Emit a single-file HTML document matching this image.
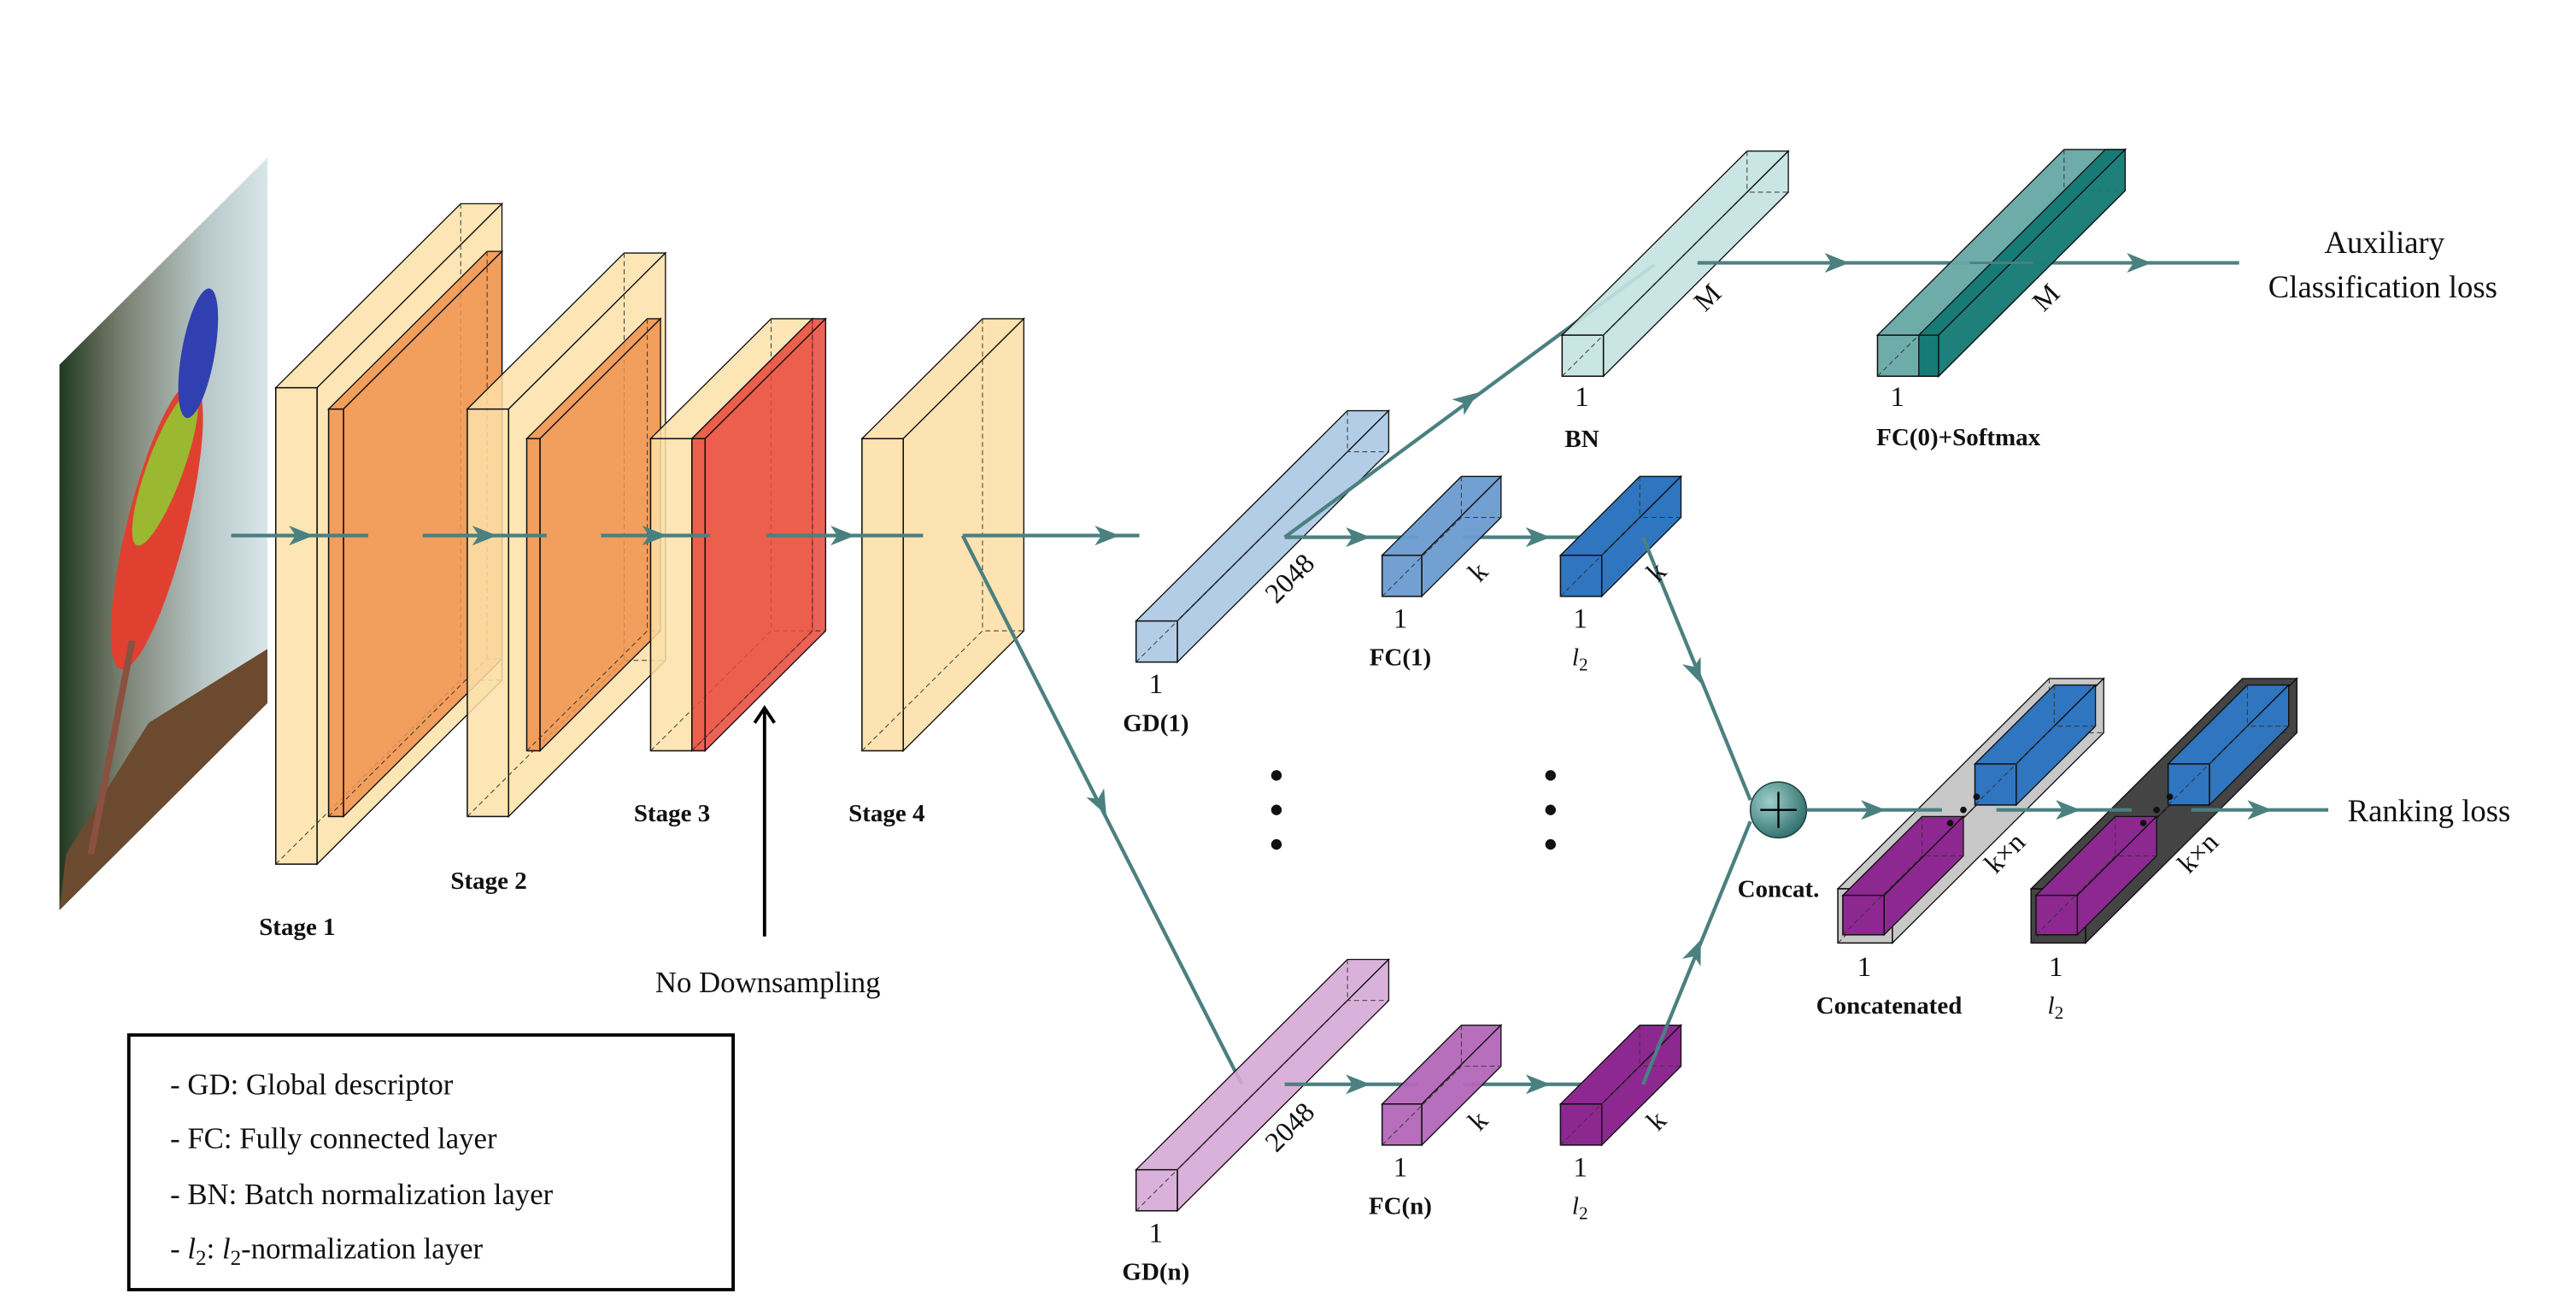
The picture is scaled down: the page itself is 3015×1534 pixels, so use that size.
<!DOCTYPE html>
<html><head><meta charset="utf-8">
<style>
html,body{margin:0;padding:0;background:#fff;}
svg{display:block;}
text{font-family:"Liberation Serif","DejaVu Serif",serif;fill:#111;}
.b{font-weight:bold;}
</style></head>
<body>
<svg id="s" xmlns="http://www.w3.org/2000/svg" width="3015" height="1534" viewBox="0 0 1560 798" preserveAspectRatio="none" font-family="Liberation Serif, serif">
<defs>
<linearGradient id="bg" x1="0" y1="0" x2="1" y2="0">
<stop offset="0" stop-color="#203820"/><stop offset="0.3" stop-color="#7a8070"/><stop offset="0.7" stop-color="#b8c8c8"/><stop offset="1" stop-color="#d8e6ea"/>
</linearGradient>
<radialGradient id="pl" cx="0.35" cy="0.35" r="0.7"><stop offset="0" stop-color="#9fd0cc"/><stop offset="1" stop-color="#2f6f6c"/></radialGradient>
<clipPath id="bc"><polygon points="36,222 162,96 162,428 36,554"/></clipPath>
</defs>
<g id="g"></g>
</svg>
<script>
const g=document.getElementById('g');const NS='http://www.w3.org/2000/svg';
function el(t,a,txt){const e=document.createElementNS(NS,t);for(const k in a)e.setAttribute(k,a[k]);if(txt!==undefined)e.textContent=txt;g.appendChild(e);return e;}
const T='#4b8080';
el('polygon',{points:'36,222 162,96 162,428 36,554',fill:'url(#bg)'});
const bg=document.createElementNS(NS,'g');bg.setAttribute('clip-path','url(#bc)');g.appendChild(bg);
function be(t,a){const e=document.createElementNS(NS,t);for(const k in a)e.setAttribute(k,a[k]);bg.appendChild(e);}
be('polygon',{points:'90,440 162,395 162,428 36,554 40,520',fill:'#6b4a30'});
be('ellipse',{cx:95,cy:320,rx:18,ry:90,fill:'#e04030',transform:'rotate(14 95 320)'});
be('ellipse',{cx:100,cy:285,rx:11,ry:50,fill:'#9ab830',transform:'rotate(20 100 285)'});
be('ellipse',{cx:120,cy:215,rx:10,ry:40,fill:'#3040b0',transform:'rotate(10 120 215)'});
be('line',{x1:80,y1:390,x2:55,y2:520,stroke:'#8a5040','stroke-width':4});
function cub(x,y,w,h,d,fill,op,stroke){
  stroke=stroke||'#111';
  const gg=document.createElementNS(NS,'g');gg.setAttribute('fill-opacity',op);g.appendChild(gg);
  function p(pts){const e=document.createElementNS(NS,'polygon');e.setAttribute('points',pts);e.setAttribute('fill',fill);e.setAttribute('stroke',stroke);e.setAttribute('stroke-width','0.7');gg.appendChild(e);}
  p(`${x},${y} ${x+d},${y-d} ${x+w+d},${y-d} ${x+w},${y}`);
  p(`${x+w},${y} ${x+w+d},${y-d} ${x+w+d},${y+h-d} ${x+w},${y+h}`);
  const da={stroke:'#333','stroke-width':0.5,'stroke-dasharray':'3,2',fill:'none'};
  el('polyline',Object.assign({points:`${x},${y+h} ${x+d},${y+h-d} ${x+w+d},${y+h-d}`},da));
  el('line',Object.assign({x1:x+d,y1:y-d,x2:x+d,y2:y+h-d},da));
  const r=document.createElementNS(NS,'rect');r.setAttribute('x',x);r.setAttribute('y',y);r.setAttribute('width',w);r.setAttribute('height',h);r.setAttribute('fill',fill);r.setAttribute('stroke',stroke);r.setAttribute('stroke-width',0.8);gg.appendChild(r);
}
function arrow(x,y,ang){const a=ang*Math.PI/180;const c=Math.cos(a),s=Math.sin(a);
  const pt=(u,v)=>`${x+u*c-v*s},${y+u*s+v*c}`;
  el('polygon',{points:[pt(0,0),pt(-15,-6),pt(-11,0),pt(-15,6)].join(' '),fill:T});}
function line(x1,y1,x2,y2,w){el('line',{x1,y1,x2,y2,stroke:T,'stroke-width':w||2.2});}
const OU='#fde0a8';
cub(167,236,25,290,112,OU,0.85);
cub(199,249,9,248,96,'#f0924e',0.85);
cub(283,249,25,248,95,OU,0.85);
cub(319,267,8,190,73,'#f0924e',0.85);
cub(394,267,25,190,73,OU,0.85);
cub(419,267,8,190,73,'#e8483a',0.85);
cub(522,267,25,190,73,OU,0.9);
[[140,223],[256,331],[364,430],[464,559],[583,690]].forEach(s=>line(s[0],326,s[1],326));
[190,301,404,518,678].forEach(x=>arrow(x,326,0));
line(583,326,752,660);
arrow(670,496,Math.atan2(334,169)*180/Math.PI);
el('line',{x1:463,y1:432,x2:463,y2:570,stroke:'#000','stroke-width':2});
el('polyline',{points:'457,440 463,431 469,440',fill:'none',stroke:'#000','stroke-width':2});
el('text',{x:465,y:604,'font-size':18,'text-anchor':'middle'},'No Downsampling');
[['Stage 1',180,569],['Stage 2',296,541],['Stage 3',407,500],['Stage 4',537,500]].forEach(t=>el('text',{x:t[1],y:t[2],'font-size':15,'text-anchor':'middle',class:'b'},t[0]));
cub(688,378,25,25,128,'#abc8e4',0.9);
line(778,327,1002,161);arrow(895,239,-36.5);
cub(946,204,25,25,112,'#c4e3e1',0.9);
line(1028,160,1193,160);line(1231,160,1356,160);
arrow(1120,160,0);
cub(1137,204,37,25,113,'#66a8a5',0.95);
el('polygon',{points:'1162,204 1275,91 1287,91 1174,204',fill:'#167b76',stroke:'#111','stroke-width':0.7});
el('polygon',{points:'1162,204 1174,204 1174,229 1162,229',fill:'#167b76',stroke:'#111','stroke-width':0.7});
el('polygon',{points:'1174,204 1287,91 1287,116 1174,229',fill:'#167b76',stroke:'#111','stroke-width':0.7,'fill-opacity':0.9});
line(1193,160,1231,160,1.5);
arrow(1303,160,0);
line(778,327,859,327);line(886,327,968,327);arrow(830,327,0);arrow(939,327,0);
cub(837,338,24,25,48,'#6a9bd0',0.95);
cub(945,338,25,25,48,'#2f75bf',1);
line(995,327,1060,487);arrow(1030,416,Math.atan2(160,65)*180/Math.PI);
cub(688,712,25,25,128,'#d6a9d6',0.9);
line(778,660,859,660);line(886,660,968,660);arrow(830,660,0);arrow(939,660,0);
cub(837,672,24,25,48,'#b366b8',0.95);
cub(945,672,25,25,48,'#8e2891',1);
line(995,660,1060,500);arrow(1030,572,Math.atan2(-160,65)*180/Math.PI);
el('circle',{cx:1077,cy:493,r:17,fill:'url(#pl)',stroke:'#244','stroke-width':0.8});
el('line',{x1:1066,y1:493,x2:1088,y2:493,stroke:'#000','stroke-width':1.2});
el('line',{x1:1077,y1:482,x2:1077,y2:504,stroke:'#000','stroke-width':1.2});
function cat(ox,col,pc,bc){
  cub(ox,541,33,33,128,col,1);
  cub(ox+3,545,25,24,48,pc,1);
  cub(ox+83,465,25,25,48,bc,1);
  [[ox+76,493],[ox+84,485],[ox+68,501]].forEach(p=>el('circle',{cx:p[0],cy:p[1],r:2,fill:'#111'}));
}
cat(1113,'#c8c8c8','#8e2891','#2f75bf');
cat(1230,'#444444','#8e2891','#2f75bf');
line(1094,493,1176,493);line(1209,493,1291,493);line(1327,493,1410,493);
arrow(1142,493,0);arrow(1260,493,0);arrow(1376,493,0);
[773,939].forEach(x=>[472,493,514].forEach(y=>el('circle',{cx:x,cy:y,r:3.2,fill:'#111'})));
function t(s,x,y,sz,cls,anchor,rot){const a={x,y,'font-size':sz,'text-anchor':anchor||'middle'};if(cls)a.class=cls;if(rot)a.transform=`rotate(${rot} ${x} ${y})`;return el('text',a,s);}
t('1',700,422,17);t('GD(1)',700,445,15,'b');
t('1',848,382,17);t('FC(1)',848,405,15,'b');
t('1',957,382,17);
t('1',958,247,17);t('BN',958,272,15,'b');
t('1',1149,247,17);t('FC(0)+Softmax',1186,271,15,'b');
t('Auxiliary',1444,154,19);t('Classification loss',1443,181,19);
t('Ranking loss',1471,500,19);
t('Concat.',1077,546,15,'b');
t('1',1129,594,17);t('Concatenated',1144,617,15,'b');
t('1',1245,594,17);
t('1',700,756,17);t('GD(n)',700,779,15,'b');
t('1',848,716,17);t('FC(n)',848,739,15,'b');
t('1',957,716,17);
function l2(x,y){const e=el('text',{x,y,'font-size':15,'font-style':'italic'},'l');const sp=document.createElementNS(NS,'tspan');sp.setAttribute('font-size','11');sp.setAttribute('dy','3');sp.setAttribute('font-style','normal');sp.textContent='2';e.appendChild(sp);}
l2(952,405);l2(952,739);l2(1240,617);
t('2048',785,356,17,null,'middle',-45);t('2048',785,690,17,null,'middle',-45);
t('k',899,352,17,null,'middle',-45);t('k',1007,352,17,null,'middle',-45);
t('k',899,686,17,null,'middle',-45);t('k',1007,686,17,null,'middle',-45);
t('M',1038,185,17,null,'middle',-45);t('M',1243,185,17,null,'middle',-45);
t('k×n',1218,523,17,null,'middle',-45);t('k×n',1335,523,17,null,'middle',-45);
el('rect',{x:78,y:630,width:366,height:155,fill:'none',stroke:'#000','stroke-width':2});
t('- GD: Global descriptor',103,666,18,null,'start');
t('- FC: Fully connected layer',103,699,18,null,'start');
t('- BN: Batch normalization layer',103,733,18,null,'start');
const lg=el('text',{x:103,y:766,'font-size':18},'- ');
function ap(txt,it,sub){const sp=document.createElementNS(NS,'tspan');sp.textContent=txt;if(it)sp.setAttribute('font-style','italic');if(sub){sp.setAttribute('font-size','13');sp.setAttribute('dy','4');}lg.appendChild(sp);return sp;}
ap('l',1);ap('2',0,1);const s1=ap(': ');s1.setAttribute('dy','-4');ap('l',1);ap('2',0,1);const s2=ap('-normalization layer');s2.setAttribute('dy','-4');
</script>
</body></html>
